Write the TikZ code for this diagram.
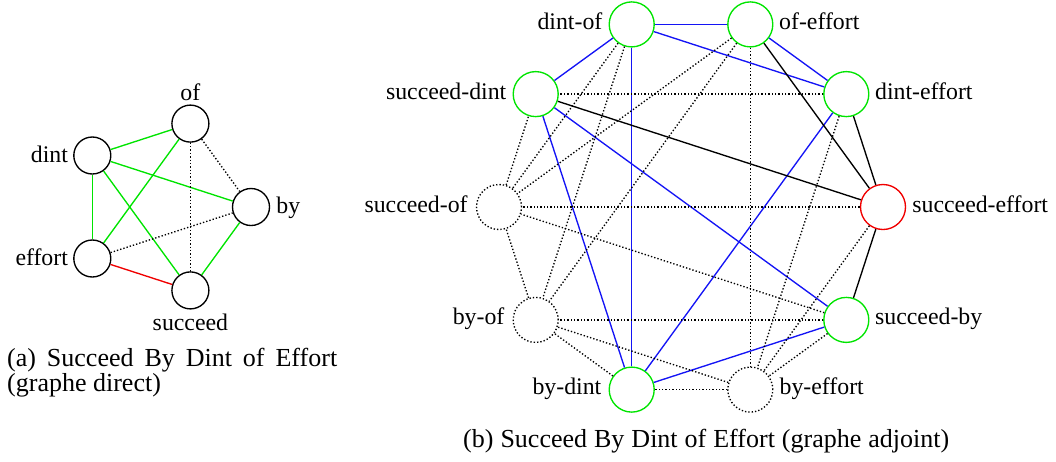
\documentclass[tikz,border=0pt]{standalone}
\usepackage{fontspec}
\setmainfont{Liberation Serif}
\newfontfamily\textserif{Liberation Serif}
\definecolor{edgegreen}{RGB}{0,228,0}
\definecolor{edgeblue}{RGB}{20,20,245}
\definecolor{edgered}{RGB}{240,0,0}
\begin{document}
\begin{tikzpicture}[x=1pt,y=-1pt,
  vsmall/.style={circle,draw,line width=1.35pt,inner sep=0pt,minimum size=37pt},
  vbig/.style={circle,draw,line width=1.35pt,inner sep=0pt,minimum size=45pt},
  okv/.style={draw=edgegreen},
  badv/.style={draw=edgered},
  offv/.style={dotted},
  lbl/.style={inner sep=0pt,font=\textserif\fontsize{23.8}{28}\selectfont},
  capt/.style={inner sep=0pt,font=\textserif\fontsize{26}{30}\selectfont},
  gedge/.style={edgegreen,line width=1.35pt},
  redge/.style={edgered,line width=1.35pt},
  bedge/.style={edgeblue,line width=1.35pt},
  kedge/.style={black,line width=1.35pt},
  dedge/.style={black,line width=1.35pt,dotted}]
\useasboundingbox (0,0) rectangle (1056,461);

% ---------- (a) direct graph ----------
\node[vsmall] (a-of)  at (190.4,123.6) {};
\node[vsmall] (a-di)  at (92.3,155.5) {};
\node[vsmall] (a-by)  at (251,207) {};
\node[vsmall] (a-ef)  at (92.3,258.5) {};
\node[vsmall] (a-su)  at (190.4,290.4) {};

\node[lbl,anchor=base] (la-of) at ([yshift=4pt]a-of.north) {of};
\node[lbl,anchor=base east] (la-di) at ([xshift=-5pt,yshift=-6.5pt]a-di.west) {dint};
\node[lbl,anchor=base west] (la-by) at ([xshift=6pt,yshift=-6pt]a-by.east) {by};
\node[lbl,anchor=base east] (la-ef) at ([xshift=-5pt,yshift=-7pt]a-ef.west) {effort};
\node[lbl,anchor=base] (la-su) at ([yshift=-20.5pt]a-su.south) {succeed};

\draw[gedge] (a-di) -- (a-of);
\draw[gedge] (a-di) -- (a-by);
\draw[gedge] (a-di) -- (a-ef);
\draw[gedge] (a-di) -- (a-su);
\draw[gedge] (a-ef) -- (a-of);
\draw[gedge] (a-by) -- (a-su);
\draw[redge] (a-ef) -- (a-su);
\draw[dedge] (a-of) -- (a-by);
\draw[dedge] (a-of) -- (a-su);
\draw[dedge] (a-ef) -- (a-by);

\node[capt,anchor=base west] (cap-a1) at (7,366)
  {\makebox[330pt][s]{(a) Succeed By Dint of Effort}};
\node[capt,anchor=base west] (cap-a2) at (7,391) {(graphe direct)};

% ---------- (b) line graph ----------
\node[vbig,badv] (sef) at (883,207) {};
\node[vbig,okv]  (def) at (846.3,94.1) {};
\node[vbig,okv]  (oef) at (750.3,24.4) {};
\node[vbig,okv]  (dof) at (631.7,24.4) {};
\node[vbig,okv]  (sdi) at (535.7,94.1) {};
\node[vbig,offv] (sof) at (499,207) {};
\node[vbig,offv] (bof) at (535.7,319.9) {};
\node[vbig,okv]  (bdi) at (631.7,389.6) {};
\node[vbig,offv] (bef) at (750.3,389.6) {};
\node[vbig,okv]  (sby) at (846.3,319.9) {};

\node[lbl,anchor=base west] (l-sef) at ([xshift=6pt,yshift=-5pt]sef.east) {succeed-effort};
\node[lbl,anchor=base west] (l-def) at ([xshift=5.5pt,yshift=-5pt]def.east) {dint-effort};
\node[lbl,anchor=base west] (l-oef) at ([xshift=5.5pt,yshift=-5pt]oef.east) {of-effort};
\node[lbl,anchor=base east] (l-dof) at ([xshift=-6pt,yshift=-5pt]dof.west) {dint-of};
\node[lbl,anchor=base east] (l-sdi) at ([xshift=-6pt,yshift=-5pt]sdi.west) {succeed-dint};
\node[lbl,anchor=base east] (l-sof) at ([xshift=-8pt,yshift=-5pt]sof.west) {succeed-of};
\node[lbl,anchor=base east] (l-bof) at ([xshift=-8pt,yshift=-5pt]bof.west) {by-of};
\node[lbl,anchor=base east] (l-bdi) at ([xshift=-7pt,yshift=-5pt]bdi.west) {by-dint};
\node[lbl,anchor=base west] (l-bef) at ([xshift=6pt,yshift=-5pt]bef.east) {by-effort};
\node[lbl,anchor=base west] (l-sby) at ([xshift=5.5pt,yshift=-5pt]sby.east) {succeed-by};

% pairs of retained direct edges
\draw[bedge] (dof) -- (oef);
\draw[bedge] (dof) -- (def);
\draw[bedge] (dof) -- (sdi);
\draw[bedge] (dof) -- (bdi);
\draw[bedge] (oef) -- (def);
\draw[bedge] (sdi) -- (bdi);
\draw[bedge] (sdi) -- (sby);
\draw[bedge] (def) -- (bdi);
\draw[bedge] (bdi) -- (sby);
% pairs through the rejected vertex
\draw[kedge] (sdi) -- (sef);
\draw[kedge] (oef) -- (sef);
\draw[kedge] (def) -- (sef);
\draw[kedge] (sef) -- (sby);
% pairs through absent vertices
\draw[dedge] (def) -- (sdi);
\draw[dedge] (dof) -- (bof);
\draw[dedge] (dof) -- (sof);
\draw[dedge] (oef) -- (bof);
\draw[dedge] (oef) -- (sof);
\draw[dedge] (bof) -- (sof);
\draw[dedge] (oef) -- (bef);
\draw[dedge] (def) -- (bef);
\draw[dedge] (sef) -- (bef);
\draw[dedge] (sef) -- (sof);
\draw[dedge] (sby) -- (sof);
\draw[dedge] (sof) -- (sdi);
\draw[dedge] (sby) -- (bef);
\draw[dedge] (sby) -- (bof);
\draw[dedge] (bef) -- (bdi);
\draw[dedge] (bef) -- (bof);
\draw[dedge] (bdi) -- (bof);

\node[capt,anchor=base west] (cap-b) at (463,447)
  {\makebox[486pt][s]{(b) Succeed By Dint of Effort (graphe adjoint)}};
\end{tikzpicture}
\end{document}
